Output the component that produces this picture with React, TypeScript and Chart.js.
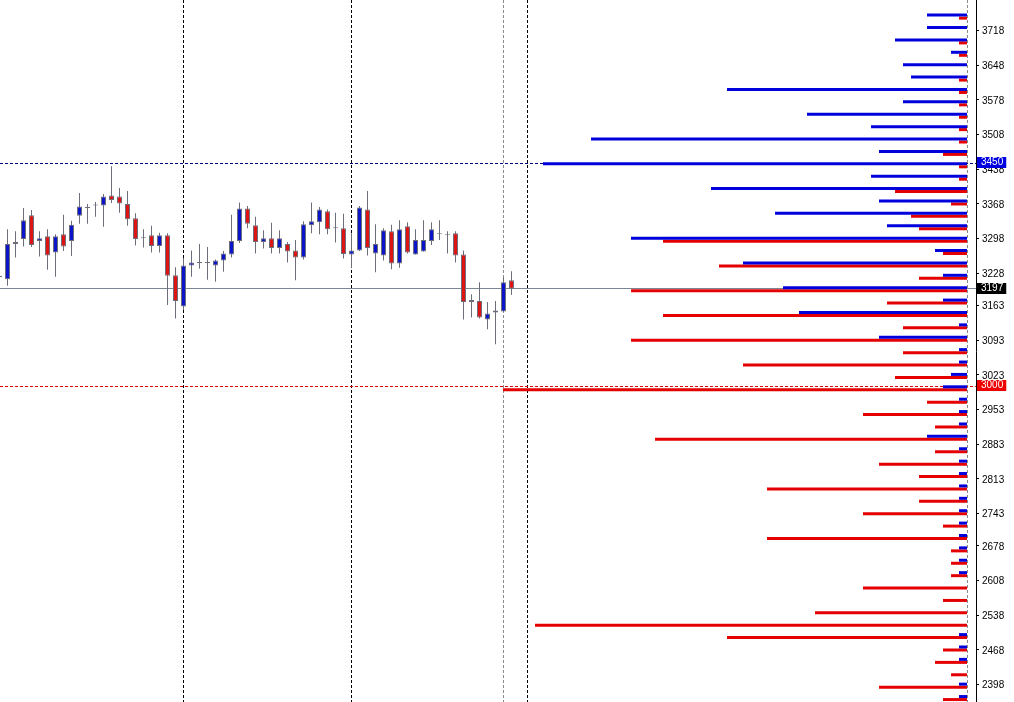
import React, { useEffect, useRef } from "react";
import { Chart, registerables } from "chart.js";

Chart.register(...registerables);

// ---- Candles (oldest -> newest) ----
const openP = [3220, 3216, 3287, 3297, 3345, 3293, 3303, 3270, 3307, 3293, 3344, 3360, 3365, 3365, 3385, 3383, 3368, 3339, 3299, 3305, 3283, 3305, 3224, 3161, 3244, 3249, 3249, 3244, 3254, 3266, 3293, 3359, 3325, 3291, 3299, 3279, 3287, 3274, 3260, 3325, 3331, 3353, 3319, 3319, 3266, 3274, 3357, 3268, 3264, 3313, 3248, 3323, 3266, 3272, 3293, 3307, 3305, 3309, 3266, 3170, 3172, 3135, 3149, 3151, 3214];
const highP = [3228, 3317, 3313, 3360, 3356, 3313, 3317, 3307, 3346, 3334, 3390, 3368, 3372, 3388, 3444, 3400, 3394, 3349, 3317, 3324, 3310, 3309, 3240, 3259, 3274, 3287, 3281, 3256, 3273, 3346, 3371, 3364, 3342, 3315, 3330, 3315, 3291, 3295, 3333, 3371, 3362, 3357, 3350, 3348, 3309, 3364, 3394, 3327, 3319, 3326, 3335, 3331, 3317, 3335, 3331, 3335, 3313, 3313, 3274, 3186, 3210, 3170, 3172, 3220, 3232];
const lowP = [3216, 3203, 3260, 3282, 3281, 3262, 3235, 3221, 3273, 3263, 3328, 3328, 3342, 3322, 3370, 3350, 3324, 3284, 3280, 3270, 3270, 3164, 3137, 3154, 3221, 3237, 3215, 3211, 3231, 3260, 3289, 3319, 3268, 3278, 3268, 3268, 3250, 3214, 3256, 3309, 3307, 3307, 3290, 3258, 3238, 3273, 3264, 3230, 3254, 3236, 3239, 3268, 3266, 3272, 3285, 3295, 3268, 3250, 3135, 3139, 3137, 3115, 3085, 3150, 3184];
const closeP = [3223, 3287, 3291, 3335, 3285, 3299, 3264, 3303, 3282, 3326, 3363, 3360, 3365, 3383, 3376, 3369, 3337, 3297, 3299, 3283, 3305, 3223, 3172, 3244, 3250, 3249, 3249, 3254, 3268, 3293, 3359, 3328, 3291, 3299, 3279, 3299, 3272, 3260, 3327, 3333, 3357, 3317, 3319, 3267, 3274, 3361, 3279, 3287, 3315, 3248, 3317, 3270, 3295, 3295, 3317, 3307, 3305, 3264, 3170, 3174, 3139, 3147, 3153, 3210, 3197];

// ---- Option open interest by strike ----
const strikes = [3750, 3725, 3700, 3675, 3650, 3625, 3600, 3575, 3550, 3525, 3500, 3475, 3450, 3425, 3400, 3375, 3350, 3325, 3300, 3275, 3250, 3225, 3200, 3175, 3150, 3125, 3100, 3075, 3050, 3025, 3000, 2975, 2950, 2925, 2900, 2875, 2850, 2825, 2800, 2775, 2750, 2725, 2700, 2675, 2650, 2625, 2600, 2575, 2550, 2525, 2500, 2475, 2450, 2425, 2400, 2375];
const callOI = [5, 5, 9, 2, 8, 7, 30, 8, 20, 12, 47, 11, 53, 12, 32, 11, 24, 10, 42, 4, 28, 3, 23, 3, 21, 1, 11, 1, 1, 2, 3, 1, 1, 1, 5, 1, 1, 1, 1, 1, 1, 1, 1, 1, 1, 1, 0, 0, 0, 0, 1, 1, 1, 0, 1, 1];
const putOI = [1, 0, 1, 1, 0, 1, 1, 1, 1, 1, 1, 3, 1, 1, 9, 2, 7, 6, 38, 3, 31, 6, 42, 10, 38, 8, 42, 8, 28, 9, 58, 5, 13, 4, 39, 4, 11, 6, 25, 6, 13, 3, 25, 2, 2, 2, 13, 3, 19, 54, 30, 3, 4, 2, 11, 3];

// ---- Axis tick labels and reference levels ----
const yTickLabels = [3718, 3648, 3578, 3508, 3438, 3368, 3298, 3228, 3163, 3093, 3023, 2953, 2883, 2813, 2743, 2678, 2608, 2538, 2468, 2398];
const currentPrice = 3197;
const callLevel = 3450;
const putLevel = 3000;
const sessionBreaks = [23, 44, 66];
const markerCandle = 63;

const BLUE = "#0000dc";
const RED = "#e40000";
const CANDLE_BLUE = "#0a14c8";
const CANDLE_RED = "#dc1414";
const EDGE = "#6e6e7a";
const FONT = "'Liberation Sans', Arial, sans-serif";

const levelsPlugin = {
  id: "levels",
  beforeDatasetsDraw(chart: any) {
    const { ctx, chartArea } = chart;
    const { left, right, top, bottom } = chartArea;
    const xs = chart.scales.x;
    const ys = chart.scales.y;
    const xo = chart.scales.xOI;
    ctx.save();
    ctx.lineWidth = 1;
    const hline = (v: number, color: string, dash: number[]) => {
      const py = Math.floor(ys.getPixelForValue(v)) + 0.5;
      ctx.strokeStyle = color;
      ctx.setLineDash(dash);
      ctx.beginPath();
      ctx.moveTo(left, py);
      ctx.lineTo(right, py);
      ctx.stroke();
    };
    const vline = (px: number, color: string, dash: number[]) => {
      const x = Math.floor(px) + 0.5;
      ctx.strokeStyle = color;
      ctx.setLineDash(dash);
      ctx.beginPath();
      ctx.moveTo(x, top);
      ctx.lineTo(x, bottom);
      ctx.stroke();
    };
    for (const b of sessionBreaks) vline(xs.getPixelForValue(b), "#000000", [3, 2]);
    vline(xs.getPixelForValue(markerCandle), "#8a8a8a", [3, 2]);
    vline(xo.getPixelForValue(0), "#8a8a8a", [3, 2]);
    hline(currentPrice, "#7a8694", []);
    hline(callLevel, "#000080", [3, 2]);
    hline(putLevel, "#e00000", [3, 2]);
    ctx.restore();
  },
  afterDraw(chart: any) {
    const { ctx } = chart;
    const ys = chart.scales.y;
    const boxes = [
      { v: callLevel, bg: "#0000e0" },
      { v: currentPrice, bg: "#000000" },
      { v: putLevel, bg: "#ee0000" },
    ];
    ctx.save();
    ctx.font = `10px ${FONT}`;
    ctx.textBaseline = "middle";
    ctx.textAlign = "left";
    for (const b of boxes) {
      const py = ys.getPixelForValue(b.v);
      const label = String(b.v);
      const w = ctx.measureText(label).width;
      ctx.fillStyle = b.bg;
      ctx.fillRect(977, Math.round(py) - 6, w + 7, 11);
      ctx.fillStyle = "#ffffff";
      ctx.fillText(label, 981, Math.round(py) - 0.5);
    }
    ctx.restore();
  },
};

function bodyColor(i: number) {
  if (closeP[i] > openP[i]) return CANDLE_BLUE;
  if (closeP[i] < openP[i]) return CANDLE_RED;
  return EDGE;
}

export default function App() {
  const ref = useRef<HTMLCanvasElement>(null);

  useEffect(() => {
    if (!ref.current) return;
    const idx = openP.map((_, i) => i);
    const hidden = { display: false, offset: false, grid: { offset: false }, bounds: "data", grace: 0 };
    const chart = new Chart(ref.current, {
      type: "bar",
      data: {
        datasets: [
          {
            label: "body",
            data: idx.map((i) => ({ x: i, y: [openP[i], closeP[i]] })) as any,
            xAxisID: "x",
            yAxisID: "y",
            grouped: false,
            barThickness: 5,
            minBarLength: 1,
            backgroundColor: idx.map((i) => bodyColor(i)),
            borderColor: EDGE,
            borderWidth: 1,
            borderSkipped: false,
            inflateAmount: 0,
          } as any,
          {
            label: "wick",
            data: idx.map((i) => ({ x: i, y: [lowP[i], highP[i]] })) as any,
            xAxisID: "x",
            yAxisID: "y",
            grouped: false,
            barThickness: 1,
            backgroundColor: EDGE,
            borderWidth: 0,
            inflateAmount: 0,
          } as any,
          {
            label: "calls",
            indexAxis: "y",
            data: strikes.map((s, k) => ({ x: callOI[k], y: s })) as any,
            xAxisID: "xOI",
            yAxisID: "yOI",
            barThickness: 3,
            backgroundColor: BLUE,
            borderWidth: 0,
            inflateAmount: 0,
          } as any,
          {
            label: "puts",
            indexAxis: "y",
            data: strikes.map((s, k) => ({ x: putOI[k], y: s })) as any,
            xAxisID: "xOI",
            yAxisID: "yOI",
            barThickness: 3,
            backgroundColor: RED,
            borderWidth: 0,
            inflateAmount: 0,
          } as any,
        ],
      },
      options: {
        responsive: false,
        animation: false,
        devicePixelRatio: 1,
        layout: { padding: 0 },
        plugins: { legend: { display: false }, tooltip: { enabled: false } },
        scales: {
          x: { ...hidden, type: "linear", axis: "x", position: "bottom", min: 0.0625, max: 122.0625 } as any,
          xOI: { ...hidden, type: "linear", axis: "x", position: "bottom", reverse: true, min: -1.125, max: 120.875 } as any,
          yOI: { ...hidden, type: "linear", axis: "y", position: "right", min: 2367.04, max: 3783.54 } as any,
          y: {
            type: "linear",
            axis: "y",
            position: "right",
            offset: false,
            bounds: "data",
            grace: 0,
            min: 2363.0,
            max: 3779.5,
            afterBuildTicks: (s: any) => {
              s.ticks = yTickLabels.map((v) => ({ value: v }));
            },
            afterFit: (s: any) => {
              s.width = 38;
              s.paddingTop = 0;
              s.paddingBottom = 0;
            },
            grid: { offset: false, drawOnChartArea: false, drawTicks: true, tickLength: 3, color: "#000000" },
            border: { display: true, color: "#000000", width: 1 },
            ticks: {
              color: "#000000",
              padding: 3,
              labelOffset: 1,
              autoSkip: false,
              font: { family: FONT, size: 10 },
              callback: (v: any) => String(v),
            },
          } as any,
        },
      },
      plugins: [levelsPlugin],
    });
    return () => chart.destroy();
  }, []);

  return (
    <div style={{ position: "absolute", left: 0, top: 0, width: 1014, height: 702, background: "#ffffff" }}>
      <canvas ref={ref} width={1014} height={702} style={{ display: "block", width: 1014, height: 702 }} />
    </div>
  );
}
